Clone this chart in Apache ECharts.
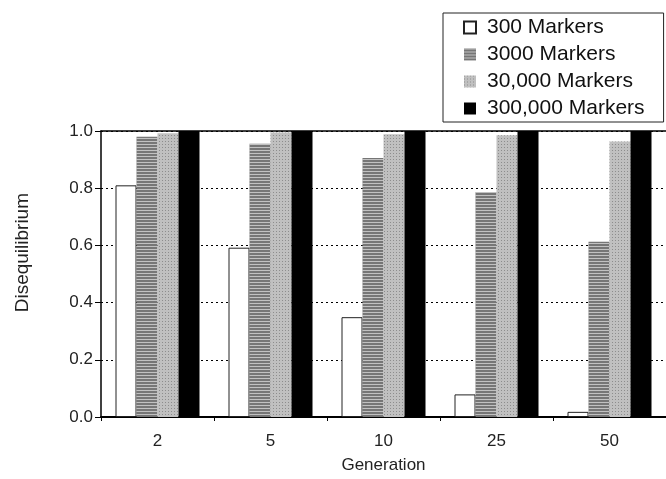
<!DOCTYPE html>
<html>
<head>
<meta charset="utf-8">
<script src="https://cdn.jsdelivr.net/npm/echarts@6/dist/echarts.min.js"></script>
<style>
html,body{margin:0;padding:0;background:#fff;}
#c{width:666px;height:479px;}
</style>
</head>
<body>
<div id="c"></div>
<script>
const categories = ['2', '5', '10', '25', '50'];
const seriesNames = ['300 Markers', '3000 Markers', '30,000 Markers', '300,000 Markers'];
const m300 = [0.81, 0.592, 0.349, 0.079, 0.018];
const m3000 = [0.98, 0.955, 0.906, 0.787, 0.613];
const m30000 = [0.992, 0.995, 0.989, 0.985, 0.963];
const m300000 = [1.0, 1.0, 1.0, 1.0, 1.0];
const yTicks = [0, 0.2, 0.4, 0.6, 0.8, 1.0];

const FONT = 'Liberation Sans, Arial, sans-serif';
const chart = echarts.init(document.getElementById('c'), null, {renderer: 'canvas'});

const styles = [
  {color: '#ffffff', borderColor: '#222', borderWidth: 1},
  {color: '#767676', decal: {symbol: 'rect', color: 'rgba(255,255,255,0.55)', dashArrayX: [1, 0], dashArrayY: [1, 2], symbolSize: 1}},
  {color: '#c0c0c0', decal: {symbol: 'rect', color: 'rgba(80,80,80,0.45)', dashArrayX: [1, 2], dashArrayY: [1, 2], symbolSize: 1}},
  {color: '#000000'}
];
const datas = [m300, m3000, m30000, m300000];

const option = {
  animation: false,
  backgroundColor: '#fff',
  textStyle: {fontFamily: FONT},
  grid: {left: 101, top: 131, width: 567, height: 292, containLabel: false},
  legend: {
    orient: 'vertical',
    left: 443,
    top: 13,
    itemWidth: 12,
    itemHeight: 12,
    itemGap: 6,
    padding: [4, 19, 3, 20],
    borderColor: '#222',
    borderWidth: 1,
    icon: 'rect',
    textStyle: {fontFamily: FONT, fontSize: 21, lineHeight: 21, color: '#111', padding: [0, 0, 0, 6]},
    data: seriesNames
  },
  xAxis: [{
    type: 'category',
    data: categories,
    position: 'bottom',
    name: 'Generation',
    nameLocation: 'middle',
    nameGap: 40,
    nameTextStyle: {fontFamily: FONT, fontSize: 17, color: '#222'},
    axisLine: {lineStyle: {color: '#000', width: 2}},
    axisTick: {show: true, length: 4, lineStyle: {color: '#000'}},
    axisLabel: {fontFamily: FONT, fontSize: 17, color: '#222', margin: 16},
    splitLine: {show: false}
  }, {
    type: 'category',
    data: categories,
    position: 'top',
    axisLine: {show: true, lineStyle: {color: '#000', width: 1.5}},
    axisTick: {show: false},
    axisLabel: {show: false}
  }],
  yAxis: {
    type: 'value',
    min: 0,
    max: 1,
    interval: 0.2,
    axisLine: {show: true, lineStyle: {color: '#000', width: 1.5}},
    axisTick: {show: true, length: 6, lineStyle: {color: '#000'}},
    axisLabel: {fontFamily: FONT, fontSize: 17, color: '#222', margin: 8,
      formatter: v => yTicks.includes(Math.round(v * 10) / 10) ? v.toFixed(1) : ''},
    splitLine: {show: true, lineStyle: {color: '#000', type: [2, 3], width: 1}}
  },
  graphic: [{
    type: 'text',
    left: 13,
    top: 193,
    rotation: Math.PI / 2,
    style: {text: 'Disequilibrium', font: '19px ' + FONT, fill: '#222'}
  }],
  series: datas.map((d, i) => ({
    type: 'bar',
    name: seriesNames[i],
    data: d,
    xAxisIndex: 0,
    barWidth: 21,
    barGap: '0%',
    itemStyle: styles[i],
    emphasis: {disabled: true}
  }))
};
chart.setOption(option);
</script>
</body>
</html>
